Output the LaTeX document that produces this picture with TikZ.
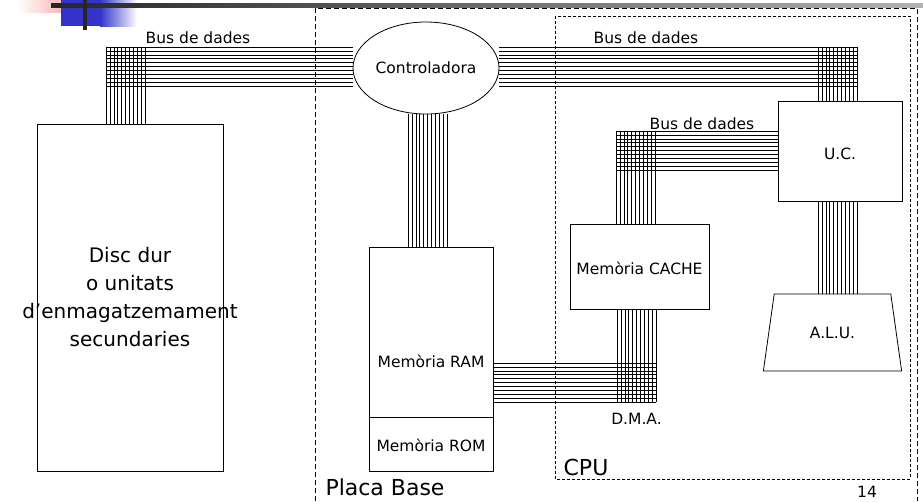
\documentclass[tikz,border=0pt]{standalone}
\usepackage{fontspec}
\setmainfont{DejaVu Sans}
\usetikzlibrary{calc,shapes.geometric}
\definecolor{slideblue}{RGB}{51,51,204}
\definecolor{slidepink}{RGB}{246,170,170}

\begin{document}
\begin{tikzpicture}[x=1pt, y=-1pt,
  every node/.style={font=\fontsize{15.5}{18}\selectfont},
  unit/.style={draw, line width=0.8pt, inner sep=0pt},
  bus/.style={line width=0.5pt},
  zone/.style={line width=0.6pt, dash pattern=on 5pt off 3pt},
  big/.style={font=\fontsize{22}{26}\selectfont}]
\useasboundingbox (0,0) rectangle (923,501);

% slide decoration
\shade[left color=white, right color=slidepink] (17,0) rectangle (70,12);
\fill[slideblue] (61,0) rectangle (100,26);
\shade[left color=slideblue, right color=white] (100,0) rectangle (137,26);
\shade[left color=black!85, right color=black!30] (51,3.5) rectangle (923,7);
\fill[black!85] (83,0) rectangle (87,30);

% zones
\draw[zone] (315,501) -- (315,8) -- (917,8) -- (917,501);
\draw[zone, dash pattern=on 3pt off 2pt] (555,16) rectangle (910,479);
\node[big] (placa) at (385,487) {Placa Base};
\node[big] (cpu) at (586,467) {CPU};

% units
\node[unit, minimum width=186pt, minimum height=347pt] (disc) at (130,297.5) {};
\node[align=center, font=\fontsize{20}{28}\selectfont] (disctxt) at (disc) {Disc dur\\ o unitats\\ d’enmagatzemament\\ secundaries};
\node[unit, ellipse, minimum width=146pt, minimum height=92pt] (ctrl) at (426,68) {Controladora};
\node[unit, minimum width=124pt, minimum height=170pt] (ram) at (431,332) {};
\node[anchor=base] (ramtxt) at (431,367) {Memòria RAM};
\node[unit, minimum width=124pt, minimum height=54pt] (rom) at (431,444) {};
\node[anchor=base] (romtxt) at (431,451) {Memòria ROM};
\node[unit, minimum width=139pt, minimum height=85pt] (cache) at (639.5,266.5) {};
\node[anchor=base] (cachetxt) at (639.5,274) {Memòria CACHE};
\node[unit, minimum width=124pt, minimum height=100pt] (uc) at (840,151) {};
\node[anchor=base] (uctxt) at (840,159) {U.C.};
\node[unit, trapezium, trapezium left angle=70, trapezium right angle=70,
  trapezium stretches=true, minimum width=139pt, minimum height=77pt] (alu) at (832.5,332.5) {A.L.U.};

% labels
\node (bus1) at (198,38) {Bus de dades};
\node (bus2) at (646,38) {Bus de dades};
\node (bus3) at (702,124) {Bus de dades};
\node (dma) at (636.5,418.5) {D.M.A.};
\node (pag) at (867,492) {14};

% buses
\coordinate (jl) at (106,47);
\coordinate (jr) at (857,47);
\coordinate (jc) at (616,131);
\coordinate (jd) at (656,402);
\foreach \i in {0,...,10}{
  \draw[bus] ($(jl)+(0,\i*3.9)$) -- ($(jl -| ctrl.west)+(0,\i*3.9)$);
  \draw[bus] ($(jl)+(\i*3.9,0)$) -- ($(jl |- disc.north)+(\i*3.9,0)$);
  \draw[bus] ($(ctrl.east |- jr)+(0,\i*3.9)$) -- ($(jr)+(0,\i*3.9)$);
  \draw[bus] ($(jr)+(-\i*3.9,0)$) -- ($(jr |- uc.north)+(-\i*3.9,0)$);
  \draw[bus] ($(ctrl.south)+(-18+\i*3.9,0)$) -- ($(ctrl.south |- ram.north)+(-18+\i*3.9,0)$);
  \draw[bus] ($(jc)+(0,\i*3.9)$) -- ($(jc -| uc.west)+(0,\i*3.9)$);
  \draw[bus] ($(jc)+(\i*3.9,0)$) -- ($(jc |- cache.north)+(\i*3.9,0)$);
  \draw[bus] ($(jr |- uc.south)+(-\i*3.9,0)$) -- ($(jr |- alu.north)+(-\i*3.9,0)$);
  \draw[bus] ($(ram.east |- jd)+(0,-\i*3.9)$) -- ($(jd)+(0,-\i*3.9)$);
  \draw[bus] ($(jd |- cache.south)+(-\i*3.9,0)$) -- ($(jd)+(-\i*3.9,0)$);
}
\end{tikzpicture}
\end{document}
